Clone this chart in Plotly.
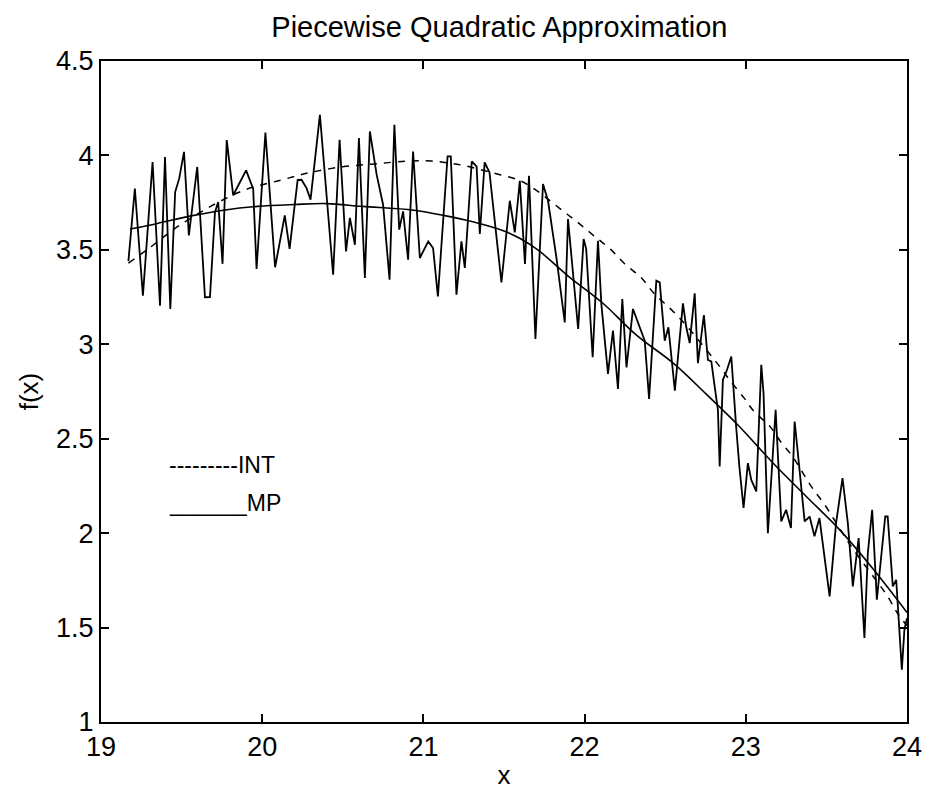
import plotly.graph_objects as go

# Noisy data
noise_x = [19.17, 19.21, 19.26, 19.32, 19.366, 19.397, 19.43, 19.46, 19.485, 19.515, 19.545, 19.597,
           19.645, 19.676, 19.707, 19.727, 19.754, 19.78, 19.82, 19.90, 19.944, 19.965, 20.02, 20.08,
           20.14, 20.17, 20.22, 20.244, 20.275, 20.30, 20.358, 20.44, 20.48, 20.52, 20.544, 20.575,
           20.60, 20.637, 20.668, 20.71, 20.75, 20.79, 20.82, 20.85, 20.874, 20.905, 20.936, 20.978,
           21.03, 21.06, 21.09, 21.15, 21.17, 21.205, 21.236, 21.257, 21.30, 21.33, 21.35, 21.38,
           21.41, 21.44, 21.484, 21.536, 21.567, 21.598, 21.63, 21.655, 21.695, 21.742, 21.773, 21.825,
           21.877, 21.897, 21.96, 21.994, 22.01, 22.05, 22.083, 22.104, 22.145, 22.176, 22.207, 22.234,
           22.26, 22.30, 22.33, 22.373, 22.40, 22.445, 22.466, 22.497, 22.52, 22.56, 22.61, 22.63,
           22.652, 22.683, 22.703, 22.74, 22.765, 22.786, 22.807, 22.827, 22.838, 22.858, 22.883, 22.91,
           22.94, 22.96, 22.986, 23.013, 23.034, 23.065, 23.096, 23.11, 23.137, 23.185, 23.22, 23.25,
           23.28, 23.303, 23.323, 23.365, 23.396, 23.426, 23.457, 23.52, 23.56, 23.60, 23.633, 23.664,
           23.70, 23.736, 23.757, 23.784, 23.813, 23.865, 23.88, 23.912, 23.933, 23.968, 23.984, 24.0]
noise_y = [3.44, 3.824, 3.257, 3.965, 3.204, 3.992, 3.187, 3.806, 3.877, 4.019, 3.576, 3.939,
           3.249, 3.25, 3.700, 3.753, 3.426, 4.081, 3.789, 3.921, 3.824, 3.399, 4.121, 3.408,
           3.682, 3.505, 3.87, 3.871, 3.827, 3.766, 4.215, 3.369, 4.083, 3.492, 3.669, 3.527,
           4.092, 3.351, 4.127, 3.898, 3.739, 3.342, 4.162, 3.607, 3.704, 3.448, 4.021, 3.457,
           3.545, 3.51, 3.254, 3.995, 3.995, 3.263, 3.545, 3.404, 3.968, 3.942, 3.584, 3.963,
           3.910, 3.672, 3.328, 3.760, 3.592, 3.866, 3.425, 3.892, 3.028, 3.848, 3.760, 3.460,
           3.116, 3.663, 3.081, 3.557, 3.504, 2.931, 3.548, 3.213, 2.843, 3.072, 2.763, 3.240,
           2.878, 3.187, 3.116, 3.019, 2.711, 3.337, 3.328, 3.019, 3.090, 2.755, 3.217, 3.094,
           3.006, 3.270, 2.900, 3.155, 2.917, 2.909, 2.776, 2.653, 2.353, 2.812, 2.864, 2.935,
           2.565, 2.353, 2.133, 2.371, 2.282, 2.221, 2.891, 2.741, 2.000, 2.653, 2.062, 2.124,
           2.027, 2.591, 2.424, 2.062, 2.088, 1.983, 2.080, 1.665, 2.053, 2.291, 2.053, 1.718,
           1.974, 1.445, 1.894, 2.124, 1.648, 2.088, 2.088, 1.718, 1.753, 1.277, 1.489, 1.55]

# INT (dashed) curve
int_x = [19.17, 19.3, 19.47, 19.68, 19.9, 20.12, 20.3, 20.5, 20.7, 20.9, 21.05, 21.23, 21.42,
         21.6, 21.71, 21.8, 21.89, 21.98, 22.07, 22.16, 22.25, 22.35, 22.43, 22.53, 22.62, 22.84,
         22.9, 22.99, 23.05, 23.15, 23.22, 23.29, 23.36, 23.42, 23.49, 23.6, 23.67, 23.8, 23.88,
         23.94, 24.0]
int_y = [3.43, 3.51, 3.62, 3.73, 3.82, 3.87, 3.91, 3.94, 3.955, 3.97, 3.97, 3.95, 3.91,
         3.866, 3.81, 3.75, 3.69, 3.63, 3.566, 3.504, 3.425, 3.354, 3.27, 3.19, 3.11, 2.88,
         2.81, 2.715, 2.645, 2.565, 2.48, 2.406, 2.31, 2.23, 2.15, 2.0, 1.91, 1.76, 1.665,
         1.577, 1.51]

# MP (solid) curve
mp_x = [19.18, 19.35, 19.56, 19.76, 19.97, 20.2, 20.4, 20.62, 20.94, 21.14, 21.3, 21.5, 21.6,
        21.71, 21.9, 22.11, 22.32, 22.55, 22.75, 22.96, 23.17, 23.38, 23.58, 23.79, 24.0]
mp_y = [3.61, 3.64, 3.68, 3.71, 3.73, 3.74, 3.745, 3.73, 3.71, 3.68, 3.65, 3.60, 3.56,
        3.50, 3.36, 3.22, 3.05, 2.90, 2.74, 2.565, 2.37, 2.19, 2.02, 1.81, 1.58]

x_ticks = [19, 20, 21, 22, 23, 24]
y_ticks = [1, 1.5, 2, 2.5, 3, 3.5, 4, 4.5]
y_tick_labels = ["1", "1.5", "2", "2.5", "3", "3.5", "4", "4.5"]

FONT = "Liberation Sans, Arial, Helvetica, sans-serif"

fig = go.Figure()
fig.add_trace(go.Scatter(x=noise_x, y=noise_y, mode="lines",
                         line=dict(color="black", width=1.8), showlegend=False))
fig.add_trace(go.Scatter(x=int_x, y=int_y, mode="lines", line_shape="spline",
                         line=dict(color="black", width=1.5, dash="7px,7px"), showlegend=False))
fig.add_trace(go.Scatter(x=mp_x, y=mp_y, mode="lines", line_shape="spline",
                         line=dict(color="black", width=1.6), showlegend=False))

# text-style legend as in the original
fig.add_annotation(x=19.41, y=2.36, xref="x", yref="y", text="---------INT", showarrow=False,
                   xanchor="left", yanchor="middle", font=dict(family=FONT, size=23, color="black"))
fig.add_annotation(x=19.41, y=2.16, xref="x", yref="y", text="______MP", showarrow=False,
                   xanchor="left", yanchor="middle", font=dict(family=FONT, size=23, color="black"))

fig.update_layout(
    width=937, height=798,
    margin=dict(l=101, r=30, t=61, b=76),
    paper_bgcolor="white", plot_bgcolor="white",
    font=dict(family=FONT, color="black"),
    title=dict(text="Piecewise Quadratic Approximation", x=0.533, xanchor="center",
               y=0.966, yanchor="middle", font=dict(family=FONT, size=29, color="black")),
)
fig.update_xaxes(range=[19, 24], tickvals=x_ticks, ticks="inside", ticklen=8, tickwidth=1.5,
                 tickcolor="black", showline=True, linecolor="black", linewidth=2, mirror="ticks",
                 showgrid=False, zeroline=False, tickfont=dict(family=FONT, size=27, color="black"),
                 title=dict(text="x", font=dict(family=FONT, size=26, color="black"), standoff=4))
fig.update_yaxes(range=[1, 4.5], tickvals=y_ticks, ticktext=y_tick_labels, ticks="inside",
                 ticklen=8, tickwidth=1.5, tickcolor="black", showline=True, linecolor="black",
                 linewidth=2, mirror="ticks", showgrid=False, zeroline=False,
                 tickfont=dict(family=FONT, size=27, color="black"),
                 title=dict(text="f(x)", font=dict(family=FONT, size=26, color="black"), standoff=10))

fig.write_html("out.html")
